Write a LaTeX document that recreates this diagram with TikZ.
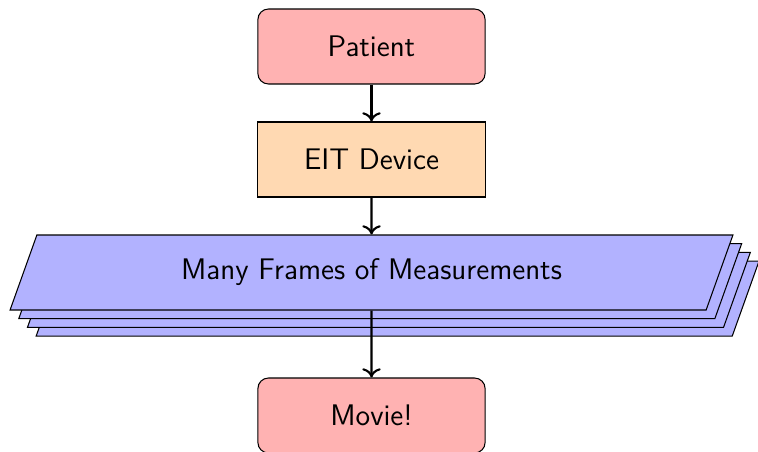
\documentclass[tikz,border=0pt]{standalone}
\usetikzlibrary{shapes.geometric,shadows,arrows.meta}
\tikzset{
  px/.style={x=0.013333cm,y=-0.013333cm},
  label font/.style={font=\sffamily\fontsize{11.3}{13.5}\selectfont},
  startstop/.style={rectangle, rounded corners=4pt, minimum width=3.03cm, minimum height=1cm,
    draw=black, fill=red!30, label font},
  process/.style={rectangle, minimum width=3.03cm, minimum height=1cm,
    draw=black, fill=orange!30, label font},
  stackshadow/.style={
    copy shadow={shadow xshift=0.348cm, shadow yshift=-0.348cm},
    copy shadow={shadow xshift=0.232cm, shadow yshift=-0.232cm},
    copy shadow={shadow xshift=0.116cm, shadow yshift=-0.116cm}},
  datastack/.style={trapezium, trapezium left angle=59, trapezium right angle=121,
    trapezium stretches body=true, minimum width=9.64cm, minimum height=1cm,
    draw=black, fill=blue!30, stackshadow, label font},
  flow/.style={thick, -{To[length=3.5pt,width=7pt]}}
}
\begin{document}
\begin{tikzpicture}[px]
  \useasboundingbox (0,0) rectangle (758,451);
  \node[startstop] (patient) at (371.5,46.5) {Patient};
  \node[process] (device) at (371.5,159.5) {EIT Device};
  \node[datastack] (frames) at (371.5,272.5) {Many Frames of Measurements};
  \node[startstop] (movie) at (371.5,415.5) {Movie!};
  \draw[flow] (patient) -- (device);
  \draw[flow] (device) -- (frames);
  \draw[flow] (frames) -- (movie);
\end{tikzpicture}
\end{document}
